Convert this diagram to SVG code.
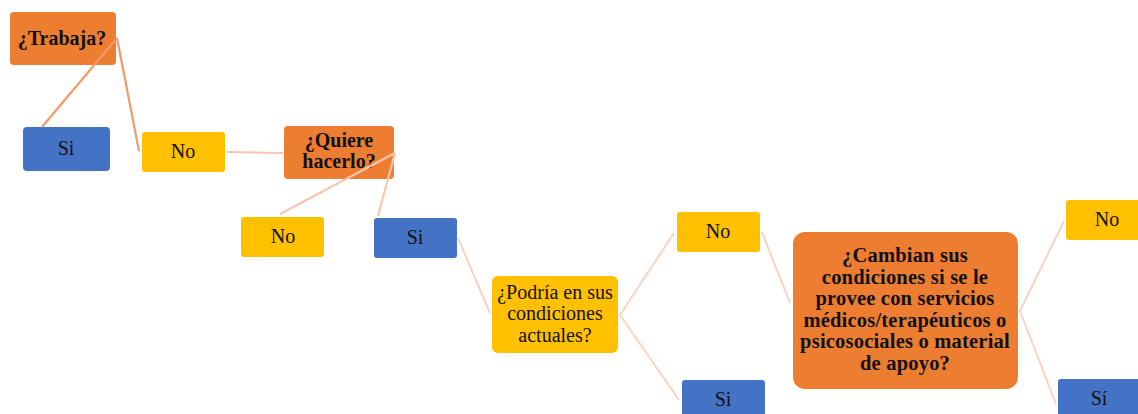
<svg xmlns="http://www.w3.org/2000/svg" width="1138" height="414" viewBox="0 0 1138 414">
<style>
.orange{fill:#ED7D31}
.yellow{fill:#FFC000}
.blue{fill:#4472C4}
text{font-family:"Liberation Serif","Times New Roman",serif;font-size:20px;fill:#111;text-anchor:middle}
.b{font-weight:bold}
.big{font-size:20.5px;letter-spacing:0.2px}
.c1{stroke:#F19A6B;stroke-width:2.2;fill:none}
.c2{stroke:#F8C6AE;stroke-width:2.2;fill:none}
.c3{stroke:#F9D2C2;stroke-width:2;fill:none}
</style>
<rect width="1138" height="414" fill="#fff"/>
<g id="trabaja"><rect class="orange" x="10" y="12" width="106" height="53" rx="4"/><text class="b" x="62" y="45">¿Trabaja?</text></g>
<g id="si1"><rect class="blue" x="23" y="127" width="87" height="44" rx="4"/><text x="66" y="155">Si</text></g>
<g id="no1"><rect class="yellow" x="142" y="132" width="83" height="40" rx="3"/><text x="183" y="158">No</text></g>
<g id="quiere"><rect class="orange" x="284" y="126" width="110" height="53" rx="4"/><text class="b" x="339" y="147">¿Quiere</text><text class="b" x="339" y="168">hacerlo?</text></g>
<g id="no2"><rect class="yellow" x="241" y="217" width="83" height="40" rx="3"/><text x="283" y="243">No</text></g>
<g id="si2"><rect class="blue" x="374" y="218" width="83" height="40" rx="3"/><text x="415" y="244">Si</text></g>
<g id="podria"><rect class="yellow" x="492" y="276" width="126" height="77" rx="6"/><text x="555" y="299">¿Podría en sus</text><text x="555" y="320">condiciones</text><text x="555" y="342">actuales?</text></g>
<g id="no3"><rect class="yellow" x="677" y="212" width="83" height="40" rx="3"/><text x="718" y="238">No</text></g>
<g id="si3"><rect class="blue" x="682" y="380" width="83" height="40" rx="3"/><text x="723" y="406">Si</text></g>
<g id="cambian"><rect class="orange" x="793" y="232" width="225" height="157" rx="12"/>
<text class="b big" x="905" y="262">¿Cambian sus</text>
<text class="b big" x="905" y="283.6">condiciones si se le</text>
<text class="b big" x="905" y="305.2">provee con servicios</text>
<text class="b big" x="905" y="326.8">médicos/terapéuticos o</text>
<text class="b big" x="905" y="348.4">psicosociales o material</text>
<text class="b big" x="905" y="370">de apoyo?</text></g>
<g id="no4"><rect class="yellow" x="1066" y="200" width="83" height="40" rx="3"/><text x="1107" y="226">No</text></g>
<g id="si4"><rect class="blue" x="1058" y="379" width="83" height="40" rx="3"/><text x="1099" y="405">Sí</text></g>
<g id="connectors">
<line class="c1" x1="117" y1="38" x2="42" y2="127"/>
<line class="c1" x1="117" y1="38" x2="139" y2="151"/>
<line class="c2" x1="227" y1="152" x2="283" y2="153"/>
<line class="c2" x1="395" y1="153" x2="280" y2="214"/>
<line class="c2" x1="395" y1="153" x2="378" y2="216"/>
<line class="c3" x1="458" y1="238" x2="490" y2="313"/>
<line class="c3" x1="620" y1="315" x2="674" y2="233"/>
<line class="c3" x1="620" y1="315" x2="679" y2="400"/>
<line class="c3" x1="762" y1="232" x2="790" y2="303"/>
<line class="c3" x1="1020" y1="311" x2="1064" y2="221"/>
<line class="c3" x1="1020" y1="311" x2="1056" y2="404"/>
</g>
</svg>
